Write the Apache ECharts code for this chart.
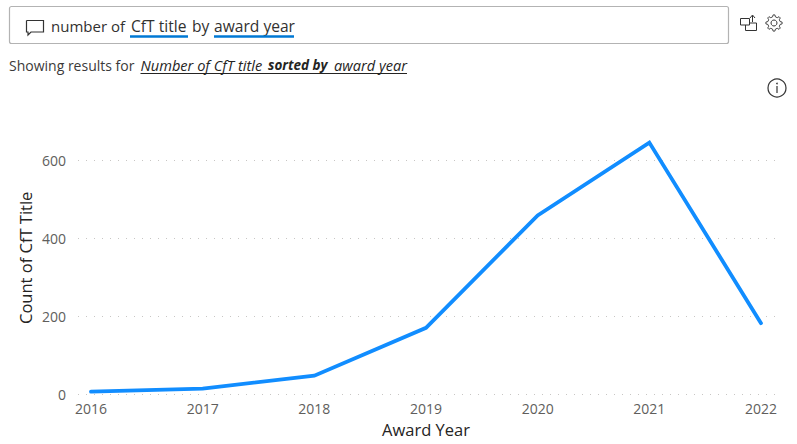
<!DOCTYPE html>
<html>
<head>
<meta charset="utf-8">
<style>html,body{margin:0;padding:0;background:#fff}#c{width:797px;height:444px}</style>
<script src="https://cdn.jsdelivr.net/npm/echarts@6/dist/echarts.min.js"></script>
</head>
<body>
<div id="c"></div>
<script>
const years = ['2016','2017','2018','2019','2020','2021','2022'];
const counts = [6, 14, 47, 170, 459, 646, 182];
const yTicks = [0, 200, 400, 600];
const xTitle = 'Award Year';
const yTitle = 'Count of CfT Title';
const FONT = '"Open Sans","Noto Sans",sans-serif';
const chart = echarts.init(document.getElementById('c'), null, {renderer:'svg'});
const txt = (x,y,text,o={}) => ({type:'text',x,y,style:Object.assign({text,fontFamily:FONT,fontSize:13,fill:'#3b3a39',verticalAlign:'middle'},o)});
const ln = (x1,y1,x2,y2,stroke,lineWidth) => ({type:'line',shape:{x1,y1,x2,y2},style:{stroke,lineWidth}});
const poly = (points,lw=1) => ({type:'polyline',shape:{points},style:{fill:'none',stroke:'#333',lineWidth:lw}});
const gearPts = [[774,14.5],[776,14.5],[776.6,16.7],[778.6,17.6],[780.6,16.5],[782,17.9],[780.9,19.9],[781.8,21.9],[784,22.5],[784,24.5],[781.8,25.1],[780.9,27.1],[782,29.1],[780.6,30.5],[778.6,29.4],[776.6,30.3],[776,32.5],[774,32.5],[773.4,30.3],[771.4,29.4],[769.4,30.5],[768,29.1],[769.1,27.1],[768.2,25.1],[766,24.5],[766,22.5],[768.2,21.9],[769.1,19.9],[768,17.9],[769.4,16.5],[771.4,17.6],[773.4,16.7],[774,14.5]];
chart.setOption({
  animation:false,
  backgroundColor:'#fff',
  grid:[
    {left:78,right:22,top:160.5,bottom:50},
    {left:91,right:36,top:121.6,bottom:50}
  ],
  xAxis:[
    {gridIndex:0,type:'value',min:0,max:1,show:false},
    {gridIndex:1,type:'category',boundaryGap:false,data:years,
     axisLine:{show:false},axisTick:{show:false},
     axisLabel:{color:'#605e5c',fontFamily:FONT,fontSize:14,margin:7,hideOverlap:false,interval:0},
     name:xTitle,nameLocation:'middle',nameGap:27,
     nameTextStyle:{color:'#252423',fontFamily:FONT,fontSize:16.5,fontWeight:500}}
  ],
  yAxis:[
    {gridIndex:0,type:'value',min:yTicks[0],max:yTicks[yTicks.length-1],interval:200,
     axisLine:{show:false},axisTick:{show:false},
     axisLabel:{color:'#605e5c',fontFamily:FONT,fontSize:14,margin:12},
     splitLine:{show:true,lineStyle:{color:'#c8c6c4',type:[1,7],width:1}}},
    {gridIndex:1,type:'value',min:0,max:700,splitLine:{show:false},
     axisLine:{show:false},axisTick:{show:false},axisLabel:{show:false},
     name:yTitle,nameLocation:'middle',nameGap:57,
     nameTextStyle:{color:'#252423',fontFamily:FONT,fontSize:16.5,fontWeight:500}}
  ],
  series:[{type:'line',xAxisIndex:1,yAxisIndex:1,data:counts,showSymbol:false,
    lineStyle:{color:'#118dff',width:3.8,join:'miter',cap:'round'}}],
  graphic:[
    {type:'rect',shape:{x:9.5,y:6.5,width:719,height:37,r:2},style:{fill:'#fff',stroke:'#b3b3b3',lineWidth:1.2}},
    poly([[26.5,20.5],[43.5,20.5],[43.5,32],[31,32],[28,35],[28,32],[26.5,32],[26.5,20.5]],1.2),
    txt(51,26,'number of',{fontSize:15,fill:'#323130'}),
    txt(131,26,'CfT title',{fontSize:15.6,fill:'#323130'}),
    txt(192,26,'by',{fontSize:15.6,fill:'#323130'}),
    txt(214,26,'award year',{fontSize:15.6,fill:'#323130'}),
    ln(130,36.5,188,36.5,'#0078d4',2.5),
    ln(214,36.5,294,36.5,'#0078d4',2.5),
    txt(9,65,'Showing results for',{fontSize:14,fill:'#3b3a39'}),
    txt(140.5,65,'Number of CfT title',{fontSize:14.6,fontStyle:'italic',fill:'#252423'}),
    txt(268,65,'sorted by',{fontSize:13.5,fontStyle:'italic',fontWeight:'bold',fill:'#252423'}),
    txt(334,65,'award year',{fontSize:14.6,fontStyle:'italic',fill:'#252423'}),
    ln(140.5,73.5,407,73.5,'#252423',1),
    poly([[740.5,18.5],[749.5,18.5],[749.5,25],[740.5,25],[740.5,18.5]]),
    poly([[745.5,25],[745.5,30.5],[756.5,30.5],[756.5,23],[749.5,23]]),
    poly([[752.5,22],[752.5,15.5]]),
    poly([[750,18],[752.5,15],[755,18]]),
    {...poly(gearPts),originX:775,originY:23.5,scaleX:0.9,scaleY:0.9,x:-1,y:-0.5},
    {type:'circle',shape:{cx:774,cy:23,r:3},style:{fill:'none',stroke:'#333',lineWidth:1}},
    {type:'circle',shape:{cx:777,cy:88,r:9},style:{fill:'none',stroke:'#333',lineWidth:1.2}},
    ln(777,86,777,93,'#333',1.2),
    {type:'circle',shape:{cx:777,cy:83.5,r:0.8},style:{fill:'#333'}}
  ]
});
</script>
</body>
</html>
